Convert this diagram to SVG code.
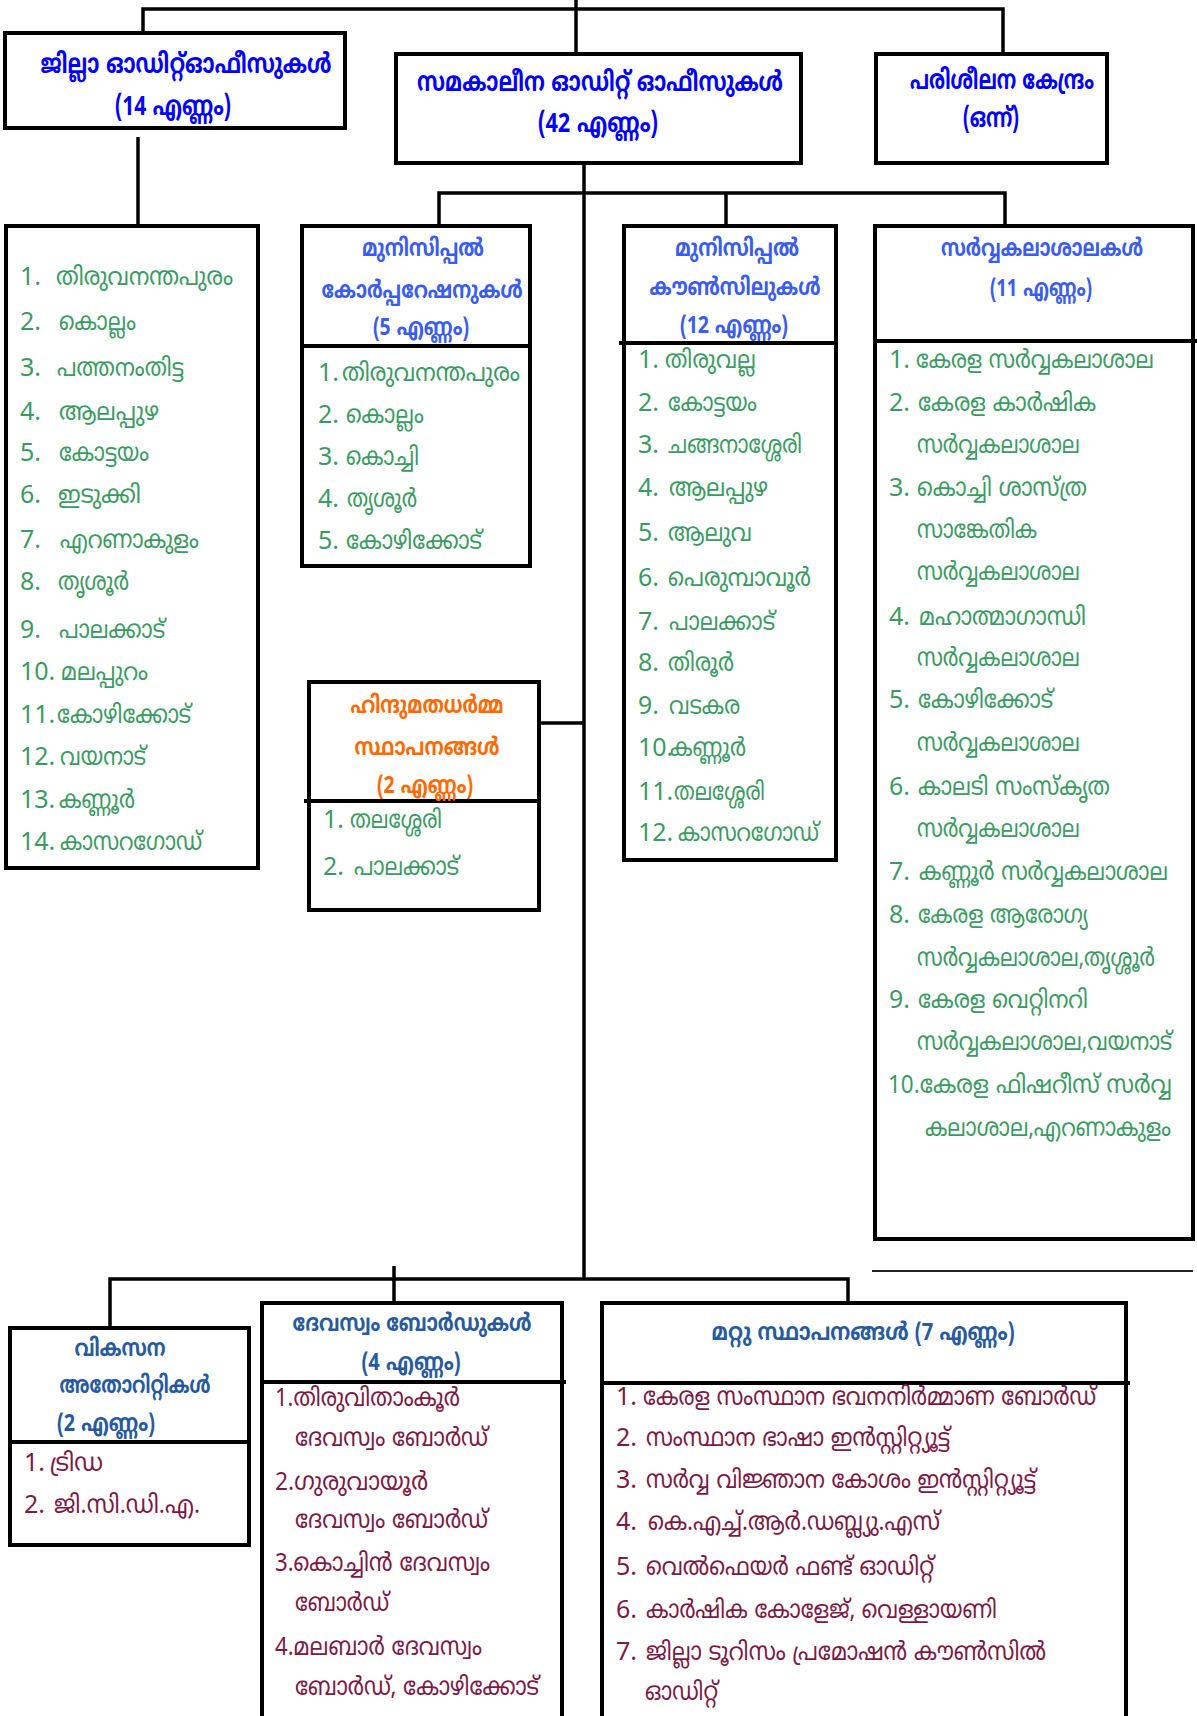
<svg xmlns="http://www.w3.org/2000/svg" width="1197" height="1716" viewBox="0 0 1197 1716">
<style>
text{font-family:"Liberation Sans Narrow","Noto Sans Malayalam","Manjari","Meera","Noto Sans",sans-serif}
.box{fill:#fff;stroke:#000;stroke-width:4}
.sep{stroke:#000;stroke-width:4;fill:none}
.conn{stroke:#000;stroke-width:3.5;fill:none}
.thin{stroke:#222;stroke-width:2;fill:none}
.h1{font-size:27px;font-weight:bold;fill:#0000ff;text-anchor:middle}
.h2{font-size:24px;font-weight:bold;fill:#3a5cf0;text-anchor:middle}
.ho{font-size:24px;font-weight:bold;fill:#ff6a00;text-anchor:middle}
.h3{font-size:24px;font-weight:bold;fill:#275a9e;text-anchor:middle}
.g{font-size:25px;fill:#3b9a63}
.m{font-size:25px;fill:#7b1a44}
</style>
<rect width="1197" height="1716" fill="#fff"/>
<g id="connectors">
<path class="conn" d="M143,33 V9 H1003 V52"/>
<path class="conn" d="M576,0 V52"/>
<path class="conn" d="M138,137 V224"/>
<path class="conn" d="M584,165 V1279"/>
<path class="conn" d="M439,224 V193 H1005 V224"/>
<path class="conn" d="M726,193 V224"/>
<path class="conn" d="M541,723 H585"/>
<path class="conn" d="M110,1326 V1279 H848 V1313"/>
<path class="conn" d="M394,1266 V1301"/>
<path class="thin" d="M872,1271 H1193"/>
</g>
<g id="district-audit-offices">
<rect class="box" x="5" y="33" width="340" height="95"/>
<text class="h1" x="186" y="73" textLength="291" lengthAdjust="spacingAndGlyphs">ജില്ലാ ഓഡിറ്റ്ഓഫീസുകൾ</text>
<text class="h1" x="173" y="115" textLength="116" lengthAdjust="spacingAndGlyphs">(14 എണ്ണം)</text>
</g>
<g id="concurrent-audit-offices">
<rect class="box" x="396" y="54" width="405" height="109"/>
<text class="h1" x="600" y="91" textLength="366" lengthAdjust="spacingAndGlyphs">സമകാലീന ഓഡിറ്റ് ഓഫീസുകൾ</text>
<text class="h1" x="598" y="132" textLength="120" lengthAdjust="spacingAndGlyphs">(42 എണ്ണം)</text>
</g>
<g id="training-centre">
<rect class="box" x="876" y="54" width="231" height="109"/>
<text class="h1" x="1002" y="89" textLength="184" lengthAdjust="spacingAndGlyphs">പരിശീലന കേന്ദ്രം</text>
<text class="h1" x="991" y="127" textLength="56" lengthAdjust="spacingAndGlyphs">(ഒന്ന്)</text>
</g>
<g id="district-list">
<rect class="box" x="6" y="226" width="252" height="642"/>
<text class="g" x="20" y="285">1.</text><text class="g" x="56" y="285" textLength="177" lengthAdjust="spacingAndGlyphs">തിരുവനന്തപുരം</text>
<text class="g" x="20" y="330">2.</text><text class="g" x="59" y="330" textLength="77" lengthAdjust="spacingAndGlyphs">കൊല്ലം</text>
<text class="g" x="20" y="376">3.</text><text class="g" x="57" y="376" textLength="127" lengthAdjust="spacingAndGlyphs">പത്തനംതിട്ട</text>
<text class="g" x="20" y="420">4.</text><text class="g" x="59" y="420" textLength="100" lengthAdjust="spacingAndGlyphs">ആലപ്പുഴ</text>
<text class="g" x="20" y="461">5.</text><text class="g" x="59" y="461" textLength="90" lengthAdjust="spacingAndGlyphs">കോട്ടയം</text>
<text class="g" x="20" y="503">6.</text><text class="g" x="58" y="503" textLength="83" lengthAdjust="spacingAndGlyphs">ഇടുക്കി</text>
<text class="g" x="20" y="548">7.</text><text class="g" x="60" y="548" textLength="139" lengthAdjust="spacingAndGlyphs">എറണാകുളം</text>
<text class="g" x="20" y="590">8.</text><text class="g" x="58" y="590" textLength="71" lengthAdjust="spacingAndGlyphs">തൃശൂർ</text>
<text class="g" x="20" y="638">9.</text><text class="g" x="59" y="638" textLength="106" lengthAdjust="spacingAndGlyphs">പാലക്കാട്</text>
<text class="g" x="20" y="680">10.</text><text class="g" x="61" y="680" textLength="87" lengthAdjust="spacingAndGlyphs">മലപ്പുറം</text>
<text class="g" x="20" y="723">11.</text><text class="g" x="57" y="723" textLength="134" lengthAdjust="spacingAndGlyphs">കോഴിക്കോട്</text>
<text class="g" x="20" y="765">12.</text><text class="g" x="60" y="765" textLength="86" lengthAdjust="spacingAndGlyphs">വയനാട്</text>
<text class="g" x="20" y="808">13.</text><text class="g" x="59" y="808" textLength="76" lengthAdjust="spacingAndGlyphs">കണ്ണൂർ</text>
<text class="g" x="20" y="850">14.</text><text class="g" x="60" y="850" textLength="142" lengthAdjust="spacingAndGlyphs">കാസറഗോഡ്</text>
</g>
<g id="municipal-corporations">
<rect class="box" x="302" y="226" width="228" height="340"/>
<path class="sep" d="M302,346 H532"/>
<text class="h2" x="423" y="256" textLength="122" lengthAdjust="spacingAndGlyphs">മുനിസിപ്പൽ</text>
<text class="h2" x="422" y="298" textLength="201" lengthAdjust="spacingAndGlyphs">കോർപ്പറേഷനുകൾ</text>
<text class="h2" x="421" y="335" textLength="96" lengthAdjust="spacingAndGlyphs">(5 എണ്ണം)</text>
<text class="g" x="318" y="381">1.</text><text class="g" x="342" y="381" textLength="178" lengthAdjust="spacingAndGlyphs">തിരുവനന്തപുരം</text>
<text class="g" x="318" y="423">2.</text><text class="g" x="346" y="423" textLength="78" lengthAdjust="spacingAndGlyphs">കൊല്ലം</text>
<text class="g" x="318" y="465">3.</text><text class="g" x="346" y="465" textLength="73" lengthAdjust="spacingAndGlyphs">കൊച്ചി</text>
<text class="g" x="318" y="507">4.</text><text class="g" x="347" y="507" textLength="70" lengthAdjust="spacingAndGlyphs">തൃശൂർ</text>
<text class="g" x="318" y="549">5.</text><text class="g" x="346" y="549" textLength="136" lengthAdjust="spacingAndGlyphs">കോഴിക്കോട്</text>
</g>
<g id="municipal-councils">
<rect class="box" x="624" y="226" width="212" height="634"/>
<path class="sep" d="M619,343 H836"/>
<text class="h2" x="737" y="256" textLength="124" lengthAdjust="spacingAndGlyphs">മുനിസിപ്പൽ</text>
<text class="h2" x="735" y="295" textLength="171" lengthAdjust="spacingAndGlyphs">കൗൺസിലുകൾ</text>
<text class="h2" x="734" y="333" textLength="108" lengthAdjust="spacingAndGlyphs">(12 എണ്ണം)</text>
<text class="g" x="638" y="368">1.</text><text class="g" x="665" y="368" textLength="91" lengthAdjust="spacingAndGlyphs">തിരുവല്ല</text>
<text class="g" x="638" y="411">2.</text><text class="g" x="668" y="411" textLength="89" lengthAdjust="spacingAndGlyphs">കോട്ടയം</text>
<text class="g" x="638" y="453">3.</text><text class="g" x="668" y="453" textLength="134" lengthAdjust="spacingAndGlyphs">ചങ്ങനാശ്ശേരി</text>
<text class="g" x="638" y="496">4.</text><text class="g" x="669" y="496" textLength="99" lengthAdjust="spacingAndGlyphs">ആലപ്പുഴ</text>
<text class="g" x="638" y="541">5.</text><text class="g" x="668" y="541" textLength="84" lengthAdjust="spacingAndGlyphs">ആലുവ</text>
<text class="g" x="638" y="586">6.</text><text class="g" x="668" y="586" textLength="143" lengthAdjust="spacingAndGlyphs">പെരുമ്പാവൂർ</text>
<text class="g" x="638" y="630">7.</text><text class="g" x="669" y="630" textLength="106" lengthAdjust="spacingAndGlyphs">പാലക്കാട്</text>
<text class="g" x="638" y="671">8.</text><text class="g" x="668" y="671" textLength="66" lengthAdjust="spacingAndGlyphs">തിരൂർ</text>
<text class="g" x="638" y="714">9.</text><text class="g" x="669" y="714" textLength="71" lengthAdjust="spacingAndGlyphs">വടകര</text>
<text class="g" x="638" y="756">10.</text><text class="g" x="670" y="756" textLength="76" lengthAdjust="spacingAndGlyphs">കണ്ണൂർ</text>
<text class="g" x="638" y="800">11.</text><text class="g" x="674" y="800" textLength="91" lengthAdjust="spacingAndGlyphs">തലശ്ശേരി</text>
<text class="g" x="638" y="841">12.</text><text class="g" x="678" y="841" textLength="141" lengthAdjust="spacingAndGlyphs">കാസറഗോഡ്</text>
</g>
<g id="universities">
<rect class="box" x="875" y="226" width="318" height="1013"/>
<path class="sep" d="M875,341 H1197"/>
<text class="h2" x="1042" y="256" textLength="202" lengthAdjust="spacingAndGlyphs">സർവ്വകലാശാലകൾ</text>
<text class="h2" x="1041" y="296" textLength="102" lengthAdjust="spacingAndGlyphs">(11 എണ്ണം)</text>
<text class="g" x="889" y="368">1.</text><text class="g" x="916" y="368" textLength="238" lengthAdjust="spacingAndGlyphs">കേരള സർവ്വകലാശാല</text>
<text class="g" x="889" y="411">2.</text><text class="g" x="918" y="411" textLength="178" lengthAdjust="spacingAndGlyphs">കേരള കാർഷിക</text>
<text class="g" x="917" y="453" textLength="163" lengthAdjust="spacingAndGlyphs">സർവ്വകലാശാല</text>
<text class="g" x="889" y="496">3.</text><text class="g" x="917" y="496" textLength="170" lengthAdjust="spacingAndGlyphs">കൊച്ചി ശാസ്ത്ര</text>
<text class="g" x="917" y="538" textLength="120" lengthAdjust="spacingAndGlyphs">സാങ്കേതിക</text>
<text class="g" x="917" y="580" textLength="163" lengthAdjust="spacingAndGlyphs">സർവ്വകലാശാല</text>
<text class="g" x="889" y="625">4.</text><text class="g" x="919" y="625" textLength="167" lengthAdjust="spacingAndGlyphs">മഹാത്മാഗാന്ധി</text>
<text class="g" x="917" y="666" textLength="163" lengthAdjust="spacingAndGlyphs">സർവ്വകലാശാല</text>
<text class="g" x="889" y="708">5.</text><text class="g" x="918" y="708" textLength="135" lengthAdjust="spacingAndGlyphs">കോഴിക്കോട്</text>
<text class="g" x="917" y="751" textLength="163" lengthAdjust="spacingAndGlyphs">സർവ്വകലാശാല</text>
<text class="g" x="889" y="795">6.</text><text class="g" x="918" y="795" textLength="192" lengthAdjust="spacingAndGlyphs">കാലടി സംസ്കൃത</text>
<text class="g" x="917" y="837" textLength="163" lengthAdjust="spacingAndGlyphs">സർവ്വകലാശാല</text>
<text class="g" x="889" y="880">7.</text><text class="g" x="919" y="880" textLength="249" lengthAdjust="spacingAndGlyphs">കണ്ണൂർ സർവ്വകലാശാല</text>
<text class="g" x="889" y="923">8.</text><text class="g" x="918" y="923" textLength="170" lengthAdjust="spacingAndGlyphs">കേരള ആരോഗ്യ</text>
<text class="g" x="917" y="966" textLength="238" lengthAdjust="spacingAndGlyphs">സർവ്വകലാശാല,തൃശ്ശൂർ</text>
<text class="g" x="889" y="1008">9.</text><text class="g" x="918" y="1008" textLength="170" lengthAdjust="spacingAndGlyphs">കേരള വെറ്റിനറി</text>
<text class="g" x="917" y="1050" textLength="255" lengthAdjust="spacingAndGlyphs">സർവ്വകലാശാല,വയനാട്</text>
<text class="g" x="888" y="1093" textLength="284" lengthAdjust="spacingAndGlyphs">10.കേരള ഫിഷറീസ് സർവ്വ</text>
<text class="g" x="925" y="1136" textLength="246" lengthAdjust="spacingAndGlyphs">കലാശാല,എറണാകുളം</text>
</g>
<g id="hindu-religious-institutions">
<rect class="box" x="309" y="682" width="230" height="228"/>
<path class="sep" d="M304,801 H541"/>
<text class="ho" x="427" y="713" textLength="153" lengthAdjust="spacingAndGlyphs">ഹിന്ദുമതധർമ്മ</text>
<text class="ho" x="427" y="755" textLength="145" lengthAdjust="spacingAndGlyphs">സ്ഥാപനങ്ങൾ</text>
<text class="ho" x="425" y="793" textLength="96" lengthAdjust="spacingAndGlyphs">(2 എണ്ണം)</text>
<text class="g" x="323" y="828">1.</text><text class="g" x="350" y="828" textLength="92" lengthAdjust="spacingAndGlyphs">തലശ്ശേരി</text>
<text class="g" x="323" y="875">2.</text><text class="g" x="354" y="875" textLength="105" lengthAdjust="spacingAndGlyphs">പാലക്കാട്</text>
</g>
<g id="development-authorities">
<rect class="box" x="10" y="1328" width="239" height="217"/>
<path class="sep" d="M10,1442 H249"/>
<text class="h3" x="120" y="1356" textLength="91" lengthAdjust="spacingAndGlyphs">വികസന</text>
<text class="h3" x="135" y="1393" textLength="151" lengthAdjust="spacingAndGlyphs">അതോറിറ്റികൾ</text>
<text class="h3" x="106" y="1431" textLength="98" lengthAdjust="spacingAndGlyphs">(2 എണ്ണം)</text>
<text class="m" x="24" y="1471">1.</text><text class="m" x="50" y="1471" textLength="53" lengthAdjust="spacingAndGlyphs">ട്രിഡ</text>
<text class="m" x="24" y="1513">2.</text><text class="m" x="54" y="1513" textLength="146" lengthAdjust="spacingAndGlyphs">ജി.സി.ഡി.എ.</text>
</g>
<g id="devaswom-boards">
<rect class="box" x="262" y="1303" width="300" height="420"/>
<path class="sep" d="M262,1382 H566"/>
<text class="h3" x="412" y="1331" textLength="239" lengthAdjust="spacingAndGlyphs">ദേവസ്വം ബോർഡുകൾ</text>
<text class="h3" x="411" y="1370" textLength="99" lengthAdjust="spacingAndGlyphs">(4 എണ്ണം)</text>
<text class="m" x="275" y="1406" textLength="185" lengthAdjust="spacingAndGlyphs">1.തിരുവിതാംകൂർ</text>
<text class="m" x="295" y="1446" textLength="193" lengthAdjust="spacingAndGlyphs">ദേവസ്വം ബോർഡ്</text>
<text class="m" x="275" y="1490" textLength="153" lengthAdjust="spacingAndGlyphs">2.ഗുരുവായൂർ</text>
<text class="m" x="295" y="1528" textLength="193" lengthAdjust="spacingAndGlyphs">ദേവസ്വം ബോർഡ്</text>
<text class="m" x="275" y="1571" textLength="215" lengthAdjust="spacingAndGlyphs">3.കൊച്ചിൻ ദേവസ്വം</text>
<text class="m" x="295" y="1611" textLength="94" lengthAdjust="spacingAndGlyphs">ബോർഡ്</text>
<text class="m" x="275" y="1655" textLength="207" lengthAdjust="spacingAndGlyphs">4.മലബാർ ദേവസ്വം</text>
<text class="m" x="295" y="1695" textLength="244" lengthAdjust="spacingAndGlyphs">ബോർഡ്, കോഴിക്കോട്</text>
</g>
<g id="other-institutions">
<rect class="box" x="602" y="1303" width="524" height="420"/>
<path class="sep" d="M602,1383 H1130"/>
<text class="h3" x="863" y="1340" textLength="303" lengthAdjust="spacingAndGlyphs">മറ്റു സ്ഥാപനങ്ങൾ  (7 എണ്ണം)</text>
<text class="m" x="616" y="1405">1.</text><text class="m" x="643" y="1405" textLength="453" lengthAdjust="spacingAndGlyphs">കേരള സംസ്ഥാന ഭവനനിർമ്മാണ ബോർഡ്</text>
<text class="m" x="616" y="1446">2.</text><text class="m" x="646" y="1446" textLength="304" lengthAdjust="spacingAndGlyphs">സംസ്ഥാന ഭാഷാ ഇൻസ്റ്റിറ്റ്യൂട്ട്</text>
<text class="m" x="616" y="1488">3.</text><text class="m" x="646" y="1488" textLength="390" lengthAdjust="spacingAndGlyphs">സർവ്വ വിജ്ഞാന കോശം ഇൻസ്റ്റിറ്റ്യൂട്ട്</text>
<text class="m" x="616" y="1530">4.</text><text class="m" x="648" y="1530" textLength="292" lengthAdjust="spacingAndGlyphs">കെ.എച്ച്.ആർ.ഡബ്ല്യു.എസ്</text>
<text class="m" x="616" y="1575">5.</text><text class="m" x="646" y="1575" textLength="288" lengthAdjust="spacingAndGlyphs">വെൽഫെയർ ഫണ്ട് ഓഡിറ്റ്</text>
<text class="m" x="616" y="1618">6.</text><text class="m" x="646" y="1618" textLength="351" lengthAdjust="spacingAndGlyphs">കാർഷിക കോളേജ്, വെള്ളായണി</text>
<text class="m" x="616" y="1660">7.</text><text class="m" x="646" y="1660" textLength="400" lengthAdjust="spacingAndGlyphs">ജില്ലാ ടൂറിസം പ്രമോഷൻ കൗൺസിൽ</text>
<text class="m" x="645" y="1700" textLength="73" lengthAdjust="spacingAndGlyphs">ഓഡിറ്റ്</text>
</g>
</svg>
